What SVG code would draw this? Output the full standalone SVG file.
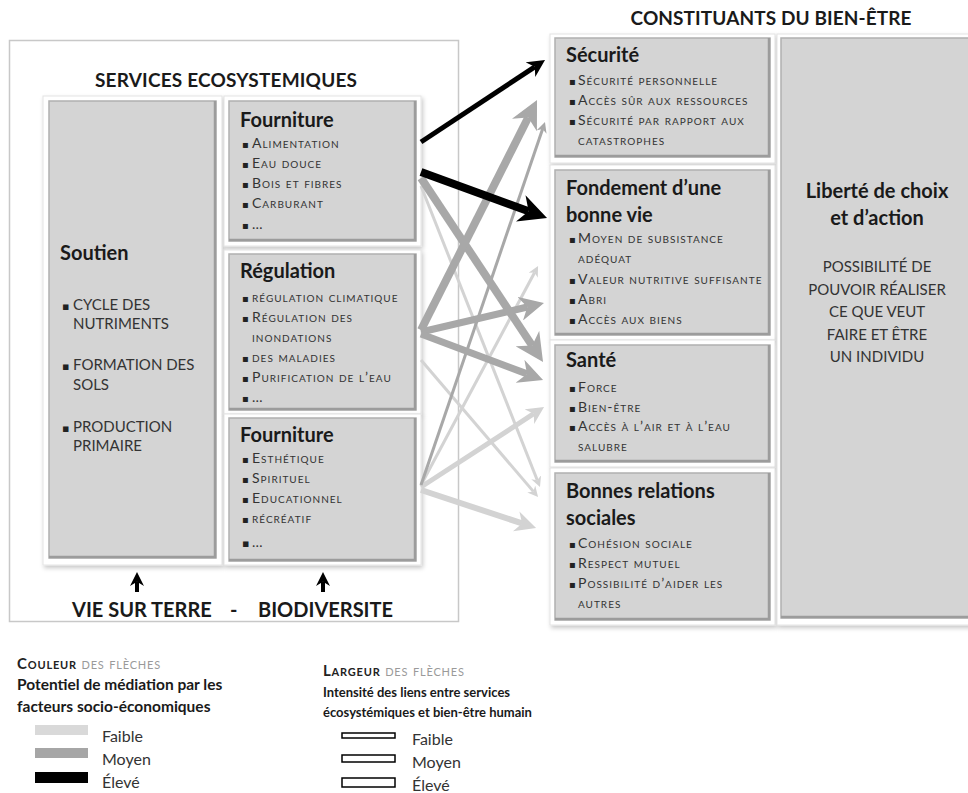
<svg xmlns="http://www.w3.org/2000/svg" width="968" height="793" viewBox="0 0 968 793">
<defs>
<style>
text{font-family:Lato,"Open Sans","Liberation Sans",sans-serif;fill:#1a1a1a}
.hd{font-weight:bold;font-size:19px}
.ti{font-weight:bold;font-size:20px}
.bu{font-family:"DejaVu Sans",sans-serif;font-size:10px;fill:#222}
.bu2{font-family:"DejaVu Sans",sans-serif;font-size:11px;fill:#222}
.it{font-size:14px;font-variant:small-caps;letter-spacing:1px;fill:#333}
.cp{font-size:15px;fill:#333}
.frame{fill:#fff;stroke:#e4e4e4;stroke-width:1;filter:url(#sh)}
.box{fill:#d4d4d4;stroke:#b0b0b0;stroke-width:1.5}
.bev{fill:none;stroke:#9c9c9c;stroke-width:2.5}
.a{fill:none;stroke-linecap:butt}
.k{stroke:#000;marker-end:url(#mk)}
.m{stroke:#a8a8a8;marker-end:url(#mm)}
.l{stroke:#d3d3d3;marker-end:url(#ml)}
.lg{font-size:16px;fill:#333}
.lh{font-variant:small-caps;font-size:15px;letter-spacing:0.8px}
</style>
<filter id="sh" x="-10%" y="-10%" width="125%" height="125%">
<feDropShadow dx="1.5" dy="2.5" stdDeviation="2" flood-color="#000" flood-opacity="0.22"/>
</filter>
<marker id="mk" viewBox="0 0 10 10" refX="3" refY="5" markerWidth="3.5" markerHeight="3.5" orient="auto" markerUnits="strokeWidth"><path d="M0,0 L10,5 L0,10 L3,5 z" fill="#000"/></marker>
<marker id="mm" viewBox="0 0 10 10" refX="3" refY="5" markerWidth="3.5" markerHeight="3.5" orient="auto" markerUnits="strokeWidth"><path d="M0,0 L10,5 L0,10 L3,5 z" fill="#a8a8a8"/></marker>
<marker id="ml" viewBox="0 0 10 10" refX="3" refY="5" markerWidth="3.5" markerHeight="3.5" orient="auto" markerUnits="strokeWidth"><path d="M0,0 L10,5 L0,10 L3,5 z" fill="#d3d3d3"/></marker>
</defs>
<rect width="968" height="793" fill="#fff"/>

<g id="services-panel">
<rect x="9.5" y="40.5" width="449" height="581" fill="#fff" stroke="#c8c8c8" stroke-width="1.5"/>
<text class="hd" x="226" y="87" text-anchor="middle" textLength="262">SERVICES ECOSYSTEMIQUES</text>
<text class="ti" y="617"><tspan x="72">VIE SUR TERRE</tspan><tspan x="230">-</tspan><tspan x="258">BIODIVERSITE</tspan></text>
</g>

<g id="soutien">
<rect class="frame" x="43" y="96" width="179" height="469"/>
<rect class="box" x="49" y="101" width="167" height="457"/>
<path class="bev" d="M49,557 H215 V101"/>
<text class="ti" x="60" y="260">Soutien</text>
<text y="310"><tspan class="bu2" x="62">▪</tspan><tspan class="cp" x="73">CYCLE DES</tspan></text>
<text class="cp" x="73" y="329">NUTRIMENTS</text>
<text y="370"><tspan class="bu2" x="62">▪</tspan><tspan class="cp" x="73">FORMATION DES</tspan></text>
<text class="cp" x="73" y="390">SOLS</text>
<text y="432"><tspan class="bu2" x="62">▪</tspan><tspan class="cp" x="73">PRODUCTION</tspan></text>
<text class="cp" x="73" y="451">PRIMAIRE</text>
</g>

<g id="fourniture-1">
<rect class="frame" x="224" y="96" width="197" height="150"/>
<rect class="box" x="229" y="101" width="187" height="140"/>
<path class="bev" d="M229,240 H415 V101"/>
<text class="ti" x="240" y="127">Fourniture</text>
<text y="148"><tspan class="bu" x="242">▪</tspan><tspan class="it" x="252">Alimentation</tspan></text>
<text y="168"><tspan class="bu" x="242">▪</tspan><tspan class="it" x="252">Eau douce</tspan></text>
<text y="188"><tspan class="bu" x="242">▪</tspan><tspan class="it" x="252">Bois et fibres</tspan></text>
<text y="208"><tspan class="bu" x="242">▪</tspan><tspan class="it" x="252">Carburant</tspan></text>
<text y="229"><tspan class="bu" x="242">▪</tspan><tspan class="it" x="252">…</tspan></text>
</g>

<g id="regulation">
<rect class="frame" x="224" y="250" width="197" height="164"/>
<rect class="box" x="229" y="254" width="187" height="156"/>
<path class="bev" d="M229,409 H415 V254"/>
<text class="ti" x="240" y="278">Régulation</text>
<text y="302"><tspan class="bu" x="242">▪</tspan><tspan class="it" x="252">régulation  climatique</tspan></text>
<text y="322"><tspan class="bu" x="242">▪</tspan><tspan class="it" x="252">Régulation des</tspan></text>
<text class="it" x="252" y="342">inondations</text>
<text y="362"><tspan class="bu" x="242">▪</tspan><tspan class="it" x="252">des  maladies</tspan></text>
<text y="382"><tspan class="bu" x="242">▪</tspan><tspan class="it" x="252">Purification de l’eau</tspan></text>
<text y="402"><tspan class="bu" x="242">▪</tspan><tspan class="it" x="252">…</tspan></text>
</g>

<g id="fourniture-2">
<rect class="frame" x="224" y="414" width="197" height="151"/>
<rect class="box" x="229" y="418" width="187" height="143"/>
<path class="bev" d="M229,560 H415 V418"/>
<text class="ti" x="240" y="442">Fourniture</text>
<text y="463"><tspan class="bu" x="242">▪</tspan><tspan class="it" x="252">Esthétique</tspan></text>
<text y="483"><tspan class="bu" x="242">▪</tspan><tspan class="it" x="252">Spirituel</tspan></text>
<text y="503"><tspan class="bu" x="242">▪</tspan><tspan class="it" x="252">Educationnel</tspan></text>
<text y="523"><tspan class="bu" x="242">▪</tspan><tspan class="it" x="252">récréatif</tspan></text>
<text y="547"><tspan class="bu2" x="242">▪</tspan><tspan class="it" x="252">…</tspan></text>
</g>

<text class="hd" x="771" y="25" text-anchor="middle" textLength="281">CONSTITUANTS DU BIEN-ÊTRE</text>

<g id="securite">
<rect class="frame" x="550" y="34" width="225" height="129"/>
<rect class="box" x="555" y="38" width="215" height="119"/>
<path class="bev" d="M555,156 H769 V38"/>
<text class="ti" x="566" y="62">Sécurité</text>
<text y="85"><tspan class="bu" x="569">▪</tspan><tspan class="it" x="578">Sécurité personnelle</tspan></text>
<text y="105"><tspan class="bu" x="569">▪</tspan><tspan class="it" x="578">Accès sûr aux ressources</tspan></text>
<text y="125"><tspan class="bu" x="569">▪</tspan><tspan class="it" x="578">Sécurité par rapport aux</tspan></text>
<text class="it" x="578" y="145">catastrophes</text>
</g>

<g id="fondement">
<rect class="frame" x="550" y="165" width="225" height="175"/>
<rect class="box" x="555" y="170" width="215" height="165"/>
<path class="bev" d="M555,334 H769 V170"/>
<text class="ti" x="566" y="195">Fondement d’une</text>
<text class="ti" x="566" y="222">bonne vie</text>
<text y="243"><tspan class="bu" x="569">▪</tspan><tspan class="it" x="578">Moyen de subsistance</tspan></text>
<text class="it" x="578" y="263">adéquat</text>
<text y="284"><tspan class="bu" x="569">▪</tspan><tspan class="it" x="578">Valeur nutritive suffisante</tspan></text>
<text y="304"><tspan class="bu" x="569">▪</tspan><tspan class="it" x="578">Abri</tspan></text>
<text y="324"><tspan class="bu" x="569">▪</tspan><tspan class="it" x="578">Accès aux biens</tspan></text>
</g>

<g id="sante">
<rect class="frame" x="550" y="340" width="225" height="127"/>
<rect class="box" x="555" y="345" width="215" height="117"/>
<path class="bev" d="M555,461 H769 V345"/>
<text class="ti" x="566" y="367">Santé</text>
<text y="392"><tspan class="bu" x="569">▪</tspan><tspan class="it" x="578">Force</tspan></text>
<text y="412"><tspan class="bu" x="569">▪</tspan><tspan class="it" x="578">Bien-être</tspan></text>
<text y="431"><tspan class="bu" x="569">▪</tspan><tspan class="it" x="578">Accès à l’air et à l’eau</tspan></text>
<text class="it" x="578" y="451">salubre</text>
</g>

<g id="relations-sociales">
<rect class="frame" x="550" y="468" width="225" height="157"/>
<rect class="box" x="555" y="473" width="215" height="147"/>
<path class="bev" d="M555,619 H769 V473"/>
<text class="ti" x="566" y="498">Bonnes relations</text>
<text class="ti" x="566" y="525">sociales</text>
<text y="548"><tspan class="bu" x="569">▪</tspan><tspan class="it" x="578">Cohésion sociale</tspan></text>
<text y="568"><tspan class="bu" x="569">▪</tspan><tspan class="it" x="578">Respect mutuel</tspan></text>
<text y="588"><tspan class="bu" x="569">▪</tspan><tspan class="it" x="578">Possibilité d’aider les</tspan></text>
<text class="it" x="578" y="608">autres</text>
</g>

<g id="liberte">
<rect class="frame" x="777" y="34" width="200" height="591"/>
<rect class="box" x="781" y="38" width="200" height="580"/>
<path class="bev" d="M781,617 H970"/>
<text class="ti" x="877" y="198" text-anchor="middle">Liberté de choix</text>
<text class="ti" x="877" y="225" text-anchor="middle">et d’action</text>
<text class="cp" x="877" y="272" text-anchor="middle">POSSIBILITÉ DE</text>
<text class="cp" x="877" y="294.5" text-anchor="middle">POUVOIR RÉALISER</text>
<text class="cp" x="877" y="317" text-anchor="middle">CE QUE VEUT</text>
<text class="cp" x="877" y="339.5" text-anchor="middle">FAIRE ET ÊTRE</text>
<text class="cp" x="877" y="362" text-anchor="middle">UN INDIVIDU</text>
</g>

<g id="connectors">
<path class="a k" stroke-width="4" d="M137,592 V581.8"/>
<path class="a k" stroke-width="4" d="M323,592 V581.8"/>
<path class="a l" stroke-width="3" d="M421,186 L537.3,480.2"/>
<path class="a l" stroke-width="3" d="M421,360 L533.3,491.4"/>
<path class="a l" stroke-width="3" d="M421,485 L534.6,272.5"/>
<path class="a l" stroke-width="5" d="M421,487 L533.8,413.7"/>
<path class="a l" stroke-width="6" d="M421,490 L522.1,523.4"/>
<path class="a m" stroke-width="3" d="M421,485 L542.6,129"/>
<path class="a m" stroke-width="8" d="M421,178 L532.2,345.6"/>
<path class="a m" stroke-width="8" d="M421,330 L528.2,117.5"/>
<path class="a m" stroke-width="7" d="M421,332 L527.3,307"/>
<path class="a m" stroke-width="7" d="M421,334 L527,373.9"/>
<path class="a k" stroke-width="5" d="M421,142 L534.8,66.8"/>
<path class="a k" stroke-width="8" d="M421,172 L528.6,211.2"/>
</g>

<g id="legend-colour">
<text class="lh" x="17" y="669"><tspan font-weight="bold" fill="#222">Couleur</tspan><tspan fill="#9a9a9a"> des flèches</tspan></text>
<text x="17" y="690" font-weight="bold" font-size="15.5">Potentiel de médiation par les</text>
<text x="17" y="712" font-weight="bold" font-size="15.5">facteurs socio-économiques</text>
<rect x="35" y="725" width="53" height="10" fill="#d9d9d9"/>
<rect x="35" y="748" width="53" height="10" fill="#a6a6a6"/>
<rect x="35" y="772" width="53" height="11" fill="#000"/>
<text class="lg" x="102" y="742">Faible</text>
<text class="lg" x="102" y="765">Moyen</text>
<text class="lg" x="102" y="788">Élevé</text>
</g>

<g id="legend-width">
<text class="lh" x="323" y="676"><tspan font-weight="bold" fill="#222">Largeur</tspan><tspan fill="#9a9a9a"> des flèches</tspan></text>
<text x="323" y="697" font-weight="bold" font-size="13">Intensité des liens entre services</text>
<text x="323" y="717" font-weight="bold" font-size="13">écosystémiques et bien-être humain</text>
<rect x="342" y="733" width="53" height="5" fill="#fff" stroke="#000" stroke-width="1.5"/>
<rect x="342" y="755" width="53" height="7" fill="#fff" stroke="#000" stroke-width="1.5"/>
<rect x="342" y="778" width="53" height="9" fill="#fff" stroke="#000" stroke-width="1.5"/>
<text class="lg" x="412" y="745">Faible</text>
<text class="lg" x="412" y="768">Moyen</text>
<text class="lg" x="412" y="791">Élevé</text>
</g>
</svg>
